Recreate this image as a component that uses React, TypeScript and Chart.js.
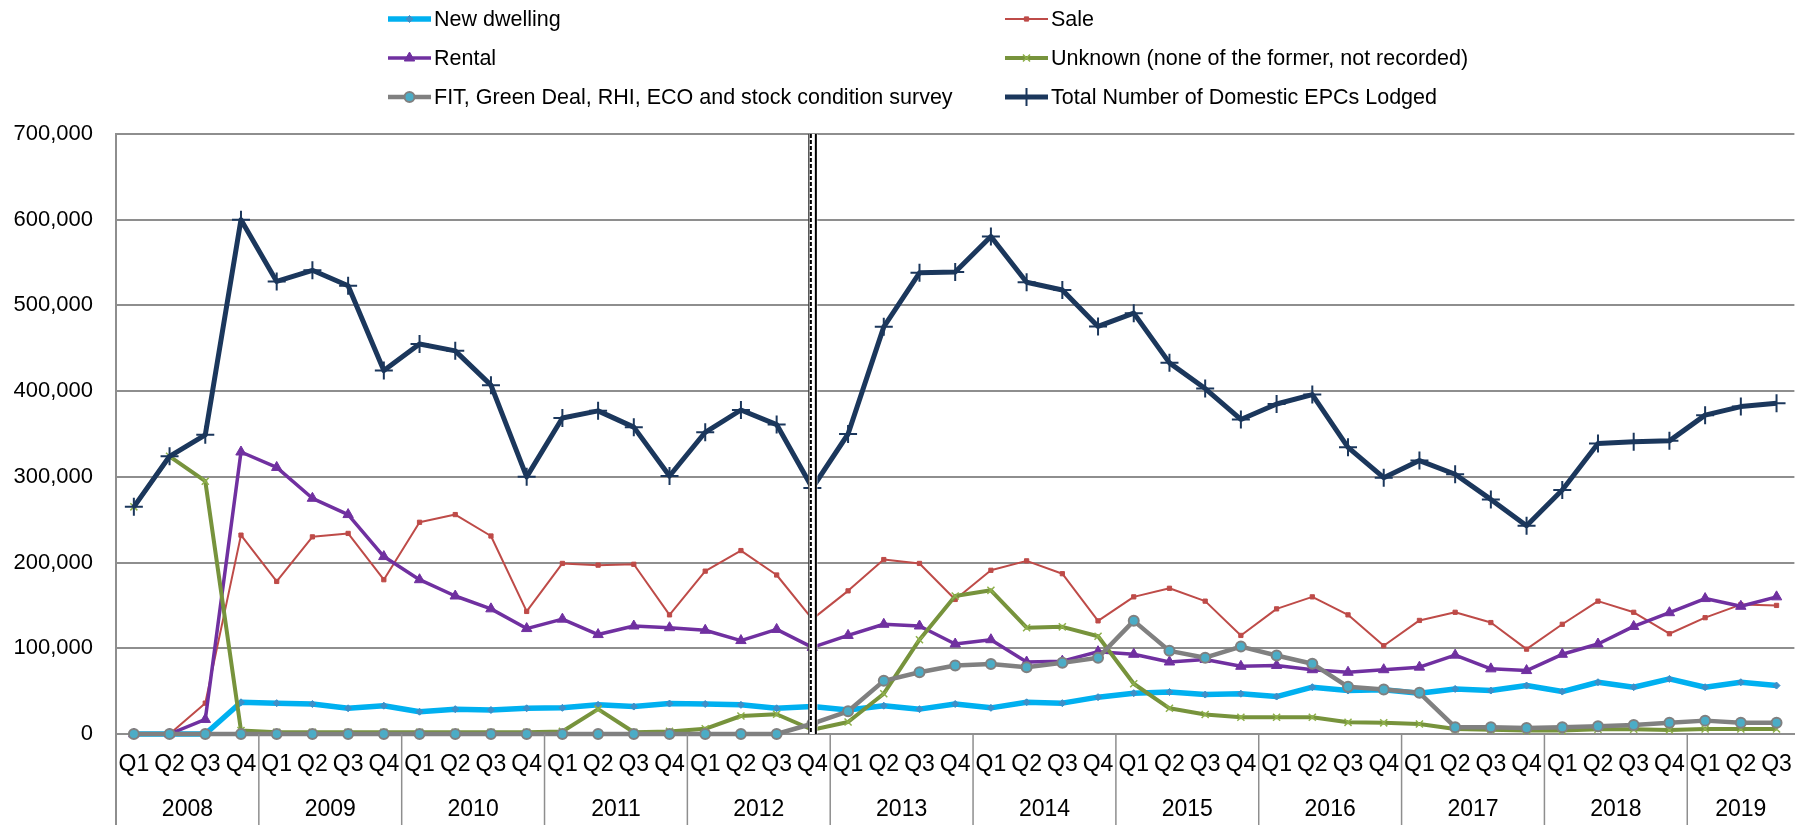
import React, { useEffect, useRef } from 'react';
import { Chart, registerables } from 'chart.js';
import { drawPoint } from 'chart.js/helpers';

Chart.register(...registerables);

const years = ['2008', '2009', '2010', '2011', '2012', '2013', '2014', '2015', '2016', '2017', '2018', '2019'];
const quarterLabels = [
  'Q1', 'Q2', 'Q3', 'Q4', 'Q1', 'Q2', 'Q3', 'Q4', 'Q1', 'Q2', 'Q3', 'Q4',
  'Q1', 'Q2', 'Q3', 'Q4', 'Q1', 'Q2', 'Q3', 'Q4', 'Q1', 'Q2', 'Q3', 'Q4',
  'Q1', 'Q2', 'Q3', 'Q4', 'Q1', 'Q2', 'Q3', 'Q4', 'Q1', 'Q2', 'Q3', 'Q4',
  'Q1', 'Q2', 'Q3', 'Q4', 'Q1', 'Q2', 'Q3', 'Q4', 'Q1', 'Q2', 'Q3',
];
const yTickValues = [0, 100000, 200000, 300000, 400000, 500000, 600000, 700000];

const newDwelling = [
  0, 0, 0, 37000, 36000, 35000, 30000, 33000, 26000, 29000, 28000, 30000,
  30500, 34000, 32000, 35500, 35000, 34000, 30000, 32000, 28000, 33000, 29000, 35000,
  30500, 37000, 36000, 43000, 47600, 49000, 46000, 47000, 43700, 54600, 50700, 51500,
  47600, 52600, 50700, 56500, 49500, 60400, 54600, 64300, 54600, 60400, 56500,
];
const sale = [
  0, 0, 36000, 232000, 178000, 230000, 234000, 180000, 247000, 256000, 231000, 143000,
  199000, 197000, 198000, 139000, 190000, 214000, 185500, 134000, 167000, 203500, 199000, 157000,
  191000, 202000, 187000, 132000, 160000, 170000, 155000, 115000, 146000, 160000, 139000, 103000,
  132500, 142000, 130000, 99000, 128000, 155000, 142000, 117000, 135700, 151000, 150000,
];
const rental = [
  0, 0, 17000, 329000, 311000, 275000, 256000, 207000, 180000, 161000, 146000, 123000,
  134000, 116000, 126000, 124000, 121000, 109000, 122000, 101000, 115000, 128000, 126000, 105000,
  110000, 84000, 85000, 96000, 93000, 84000, 87000, 79000, 80000, 75000, 72000, 75000,
  78000, 92000, 76000, 74000, 93000, 105000, 125500, 141500, 158000, 149000, 160000,
];
const unknown = [
  265000, 324000, 295000, 4000, 2000, 2000, 2000, 2000, 2000, 2000, 2000, 2000,
  3000, 29000, 2000, 3000, 6000, 21000, 23000, 5000, 14000, 47000, 110000, 161000,
  167600, 124000, 125000, 114000, 58600, 30000, 22700, 19500, 19500, 19500, 13600, 13000,
  11700, 5800, 5000, 4000, 4000, 5500, 5500, 4700, 5800, 5800, 5800,
];
const fitEtc = [
  0, 0, 0, 0, 0, 0, 0, 0, 0, 0, 0, 0,
  0, 0, 0, 0, 0, 0, 0, 12000, 26500, 62000, 72000, 80000,
  81600, 78000, 83000, 89000, 132000, 97000, 89000, 102000, 91600, 82000, 55000, 52000,
  48000, 8000, 8000, 7000, 8000, 9000, 10500, 13000, 15600, 13000, 13000,
];
const total = [
  265000, 324000, 349000, 600000, 528000, 541000, 523000, 424000, 455000, 447000, 407000, 300000,
  368600, 377000, 358000, 301000, 352000, 378000, 361000, 287000, 350000, 475000, 538000, 539000,
  580500, 527000, 518000, 475500, 491000, 433000, 403000, 367000, 385000, 396000, 334500, 299000,
  319000, 303000, 273700, 243000, 284600, 339000, 341000, 342000, 372000, 382000, 386000,
];

const seriesNames = [
  'New dwelling',
  'Sale',
  'Rental',
  'Unknown (none of the former, not recorded)',
  'FIT, Green Deal, RHI, ECO and stock condition survey',
  'Total Number of Domestic EPCs Lodged',
];
const markerIndex = 19; // 2012 Q4

const FONT = "'Liberation Sans', Arial, sans-serif";
const GRID = '#8e8e8e';

export default function App() {
  const ref = useRef<HTMLCanvasElement>(null);

  useEffect(() => {
    const canvas = ref.current;
    if (!canvas) return;

    const extras = {
      id: 'extras',
      afterDatasetsDraw(chart: any) {
        const ctx = chart.ctx;
        const xs = chart.scales.x;
        const area = chart.chartArea;
        const x0 = xs.getPixelForValue(markerIndex);
        ctx.save();
        ctx.fillStyle = '#ffffff';
        ctx.fillRect(x0 - 4, area.top, 9, area.bottom - area.top);
        ctx.strokeStyle = '#000';
        ctx.lineWidth = 1;
        ctx.beginPath();
        ctx.moveTo(x0 - 3.5, area.top);
        ctx.lineTo(x0 - 3.5, area.bottom);
        ctx.stroke();
        ctx.lineWidth = 2;
        ctx.setLineDash([4, 2]);
        ctx.beginPath();
        ctx.moveTo(x0 - 1.5, area.top);
        ctx.lineTo(x0 - 1.5, area.bottom);
        ctx.stroke();
        ctx.setLineDash([]);
        ctx.beginPath();
        ctx.moveTo(x0 + 3.5, area.top);
        ctx.lineTo(x0 + 3.5, area.bottom);
        ctx.stroke();
        ctx.restore();
      },
      afterDraw(chart: any) {
        const ctx = chart.ctx;
        const xs = chart.scales.x;
        const area = chart.chartArea;
        const H = chart.height;
        ctx.save();
        // year separators
        ctx.strokeStyle = GRID;
        ctx.lineWidth = 1.5;
        const n = quarterLabels.length;
        const bounds: number[] = [area.left];
        for (let i = 4; i < n; i += 4) {
          bounds.push((xs.getPixelForValue(i - 1) + xs.getPixelForValue(i)) / 2);
        }
        bounds.forEach((bx) => {
          ctx.beginPath();
          ctx.moveTo(bx, area.bottom);
          ctx.lineTo(bx, H);
          ctx.stroke();
        });
        // year labels
        ctx.fillStyle = '#000';
        ctx.font = `23px ${FONT}`;
        ctx.textAlign = 'center';
        ctx.textBaseline = 'middle';
        years.forEach((yr, yi) => {
          const first = yi * 4;
          const last = Math.min(first + 3, n - 1);
          const cx = (xs.getPixelForValue(first) + xs.getPixelForValue(last)) / 2;
          ctx.fillText(yr, cx, 810);
        });
        // legend
        const colText = [434, 1051];
        const rowY = [19, 58, 97];
        ctx.font = `21.5px ${FONT}`;
        ctx.textAlign = 'left';
        chart.data.datasets.forEach((ds: any, i: number) => {
          const col = i % 2;
          const row = Math.floor(i / 2);
          const tx = colText[col];
          const y = rowY[row];
          const lx0 = tx - 46;
          const lx1 = tx - 3;
          ctx.strokeStyle = ds.borderColor;
          ctx.lineWidth = ds.borderWidth;
          ctx.lineCap = 'butt';
          ctx.beginPath();
          ctx.moveTo(lx0, y);
          ctx.lineTo(lx1, y);
          ctx.stroke();
          ctx.fillStyle = ds.pointBackgroundColor;
          ctx.strokeStyle = ds.pointBorderColor;
          ctx.lineWidth = ds.pointBorderWidth;
          drawPoint(ctx, {
            pointStyle: ds.pointStyle,
            rotation: 0,
            radius: ds.pointRadius,
            borderWidth: ds.pointBorderWidth,
          } as any, (lx0 + lx1) / 2, y);
          ctx.fillStyle = '#000';
          ctx.fillText(ds.label, tx, y + 1);
        });
        // extend y axis line down
        ctx.strokeStyle = GRID;
        ctx.lineWidth = 2;
        ctx.beginPath();
        ctx.moveTo(area.left, area.bottom);
        ctx.lineTo(area.left, H);
        ctx.stroke();
        ctx.restore();
      },
    };

    const common = { tension: 0, clip: false as any, borderJoinStyle: 'round' as const };

    const chart = new Chart(canvas, {
      type: 'line',
      data: {
        labels: quarterLabels,
        datasets: [
          {
            ...common, label: seriesNames[0], data: newDwelling, order: 6,
            borderColor: '#00B0F0', borderWidth: 5.5,
            pointStyle: 'rectRot', pointRadius: 3.5, pointBorderWidth: 1,
            pointBackgroundColor: '#3d8fc8', pointBorderColor: '#3d8fc8',
          },
          {
            ...common, label: seriesNames[1], data: sale, order: 5,
            borderColor: '#BE4B48', borderWidth: 2,
            pointStyle: 'rect', pointRadius: 3, pointBorderWidth: 1,
            pointBackgroundColor: '#BE4B48', pointBorderColor: '#BE4B48',
          },
          {
            ...common, label: seriesNames[2], data: rental, order: 4,
            borderColor: '#7030A0', borderWidth: 3.5,
            pointStyle: 'triangle', pointRadius: 6, pointBorderWidth: 1,
            pointBackgroundColor: '#7030A0', pointBorderColor: '#7030A0',
          },
          {
            ...common, label: seriesNames[3], data: unknown, order: 3,
            borderColor: '#77933C', borderWidth: 4,
            pointStyle: 'crossRot', pointRadius: 5, pointBorderWidth: 1.5,
            pointBackgroundColor: '#8EB04A', pointBorderColor: '#8EB04A',
          },
          {
            ...common, label: seriesNames[4], data: fitEtc, order: 2,
            borderColor: '#808080', borderWidth: 4.5,
            pointStyle: 'circle', pointRadius: 5, pointBorderWidth: 2,
            pointBackgroundColor: '#4BACC6', pointBorderColor: '#808080',
          },
          {
            ...common, label: seriesNames[5], data: total, order: 1,
            borderColor: '#1B375C', borderWidth: 5,
            pointStyle: 'cross', pointRadius: 9, pointBorderWidth: 2,
            pointBackgroundColor: '#1B375C', pointBorderColor: '#1B375C',
          },
        ],
      },
      options: {
        animation: false,
        responsive: true,
        maintainAspectRatio: false,
        devicePixelRatio: 1,
        layout: { padding: { top: 134, left: 0, right: 0, bottom: 0 } },
        plugins: {
          legend: { display: false },
          tooltip: { enabled: false },
          title: { display: false },
        },
        font: { family: FONT },
        scales: {
          x: {
            type: 'category',
            offset: true,
            grid: { display: false, drawTicks: false },
            border: { display: true, color: GRID, width: 2 },
            ticks: {
              color: '#000', font: { family: FONT, size: 23 }, padding: 17,
              maxRotation: 0, minRotation: 0, autoSkip: false,
            },
            afterFit: (s: any) => { s.height = 91; },
          },
          y: {
            type: 'linear',
            min: 0,
            max: 700000,
            afterBuildTicks: (s: any) => { s.ticks = yTickValues.map((v) => ({ value: v })); },
            grid: { color: GRID, lineWidth: 2, drawTicks: false },
            border: { display: true, color: GRID, width: 2 },
            ticks: {
              color: '#000', font: { family: FONT, size: 22 }, padding: 23,
              callback: (v: any) => Number(v).toLocaleString('en-US'),
            },
            afterFit: (s: any) => { s.width = 116; },
          },
        },
      } as any,
      plugins: [extras],
    });

    return () => chart.destroy();
  }, []);

  return (
    <div style={{ position: 'fixed', left: 0, top: 0, width: 1809, height: 825, background: '#fff' }}>
      <canvas ref={ref} />
    </div>
  );
}
